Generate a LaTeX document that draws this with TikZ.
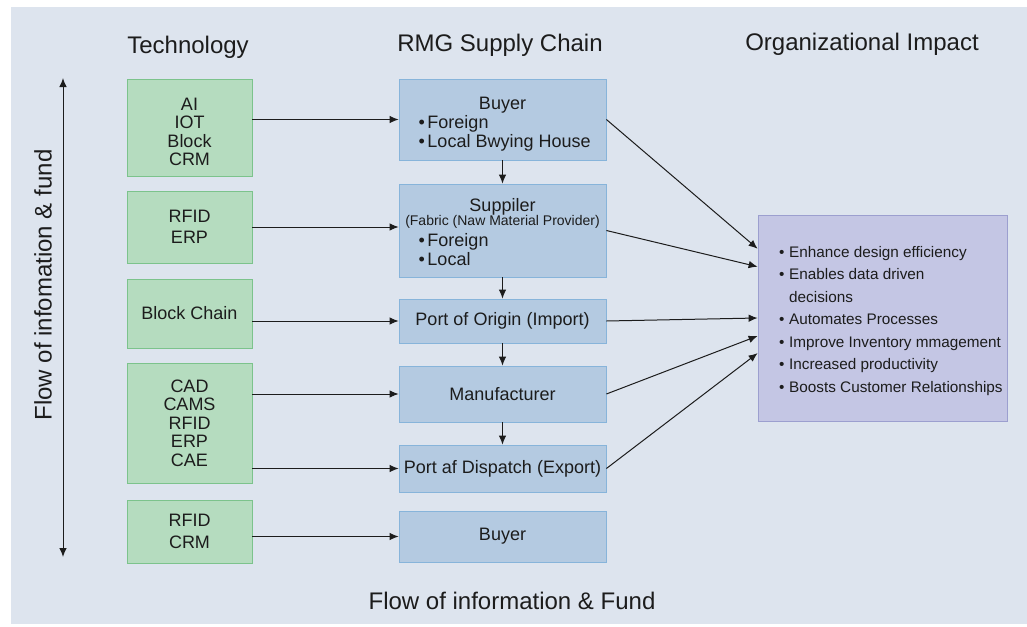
\documentclass[tikz,border=0pt]{standalone}
\usepackage{fontspec}
\setmainfont{Liberation Sans}
\usetikzlibrary{arrows.meta, positioning, calc}
\definecolor{paper}{HTML}{DDE4EE}
\definecolor{techfill}{HTML}{B5DCBF}
\definecolor{techline}{HTML}{7CC38C}
\definecolor{stagefill}{HTML}{B4CAE1}
\definecolor{stageline}{HTML}{87B4DA}
\definecolor{impactfill}{HTML}{C4C6E4}
\definecolor{impactline}{HTML}{9C9FCF}
\definecolor{ink}{HTML}{1C1C1C}
\newcommand{\bul}{\makebox[9pt][l]{\textbullet}}
\newcommand{\ibul}{\makebox[10pt][l]{\textbullet}}
\newcommand{\toppad}[1]{\rule{0pt}{#1}}

\begin{document}
\begin{tikzpicture}[x=1pt, y=-1pt,
	tech/.style={rectangle, draw=techline, fill=techfill, line width=0.8pt,
		minimum width=125pt, inner sep=0pt, align=center, text=ink,
		font=\fontsize{18}{18.5}\selectfont},
	stage/.style={rectangle, draw=stageline, fill=stagefill, line width=0.8pt,
		minimum width=207pt, inner sep=0pt, align=center, text=ink,
		font=\fontsize{18}{19}\selectfont},
	impact/.style={rectangle, draw=impactline, fill=impactfill, line width=0.8pt,
		minimum width=249pt, minimum height=206pt, inner sep=0pt},
	heading/.style={font=\fontsize{24}{24}\selectfont, text=ink, anchor=base},
	flow/.style={-{Latex[length=9pt,width=7.5pt]}, line width=1pt, draw=ink},
	]
	\useasboundingbox (0,0) rectangle (1027,626);
	\fill[paper] (11,7) rectangle (1027,624);
	
	% column titles
	\node[heading] (hTech) at (188,53) {Technology};
	\node[heading] (hChain) at (500,52) {RMG Supply Chain};
	\node[heading] (hImpact) at (862,51) {Organizational Impact};
	\node[heading] (hFlow) at (512,609) {Flow of information \& Fund};
	
	% technology column
	\node[tech, minimum height=97pt] (ai) at (189.5,127.5) {\toppad{21pt}AI\\IOT\\Block\\CRM};
	\node[tech, minimum height=72pt] (rfid) at (189.5,227) {RFID\\[3pt]ERP};
	\node[tech, minimum height=69pt] (chain) at (189.5,313.5) {Block Chain};
	\node[tech, minimum height=120pt] (cad) at (189.5,423) {CAD\\CAMS\\RFID\\ERP\\CAE};
	\node[tech, minimum height=63pt] (crm) at (189.5,531.5) {RFID\\[3pt]CRM};
	
	% supply chain column
	\node[stage, minimum height=81pt] (buyer) at (502.5,119.5) {\toppad{24pt}Buyer\\
		\makebox[168pt][l]{\begin{tabular}[t]{@{}l@{}}\bul Foreign\\ \bul Local Bwying House\end{tabular}}};
	\node[stage, minimum height=93pt] (supplier) at (502.5,230.5) {\toppad{22pt}Suppiler\\[-5pt]
		{\fontsize{14}{14}\selectfont (Fabric (Naw Material Provider)}\\[2pt]
		\makebox[168pt][l]{\begin{tabular}[t]{@{}l@{}}\bul Foreign\\ \bul Local\end{tabular}}};
	\node[stage, minimum height=44pt] (origin) at (502.5,321) {Port of Origin (Import)};
	\node[stage, minimum height=56pt] (maker) at (502.5,394) {Manufacturer};
	\node[stage, minimum height=47pt] (dispatch) at (502.5,468.5) {Port af Dispatch (Export)};
	\node[stage, minimum height=51pt] (endbuyer) at (502.5,536.5) {Buyer};
	
	% impact box
	\node[impact] (impact) at (882.5,318) {};
	\node[anchor=north west, inner sep=0pt, align=left, text=ink,
		font=\fontsize{15.3}{22.5}\selectfont] (gains) at (779,246)
		{\ibul Enhance design efficiency\\
		\ibul Enables data driven\\
		\hspace*{10pt}decisions\\
		\ibul Automates Processes\\
		\ibul Improve Inventory mmagement\\
		\ibul Increased productivity\\
		\ibul Boosts Customer Relationships};
	
	% side arrow
	\coordinate (ftop) at (63,78);
	\coordinate (fbot) at (63,557);
	\draw[{Latex[length=9pt,width=7.5pt]}-{Latex[length=9pt,width=7.5pt]}, line width=1pt, draw=ink] (ftop) -- (fbot);
	\node[heading, anchor=center, rotate=90] (vFlow) at (43,285) {Flow of infomation \& fund};
	
	% technology to supply chain
	\draw[flow] (ai.east |- buyer.west) -- (buyer.west);
	\draw[flow] (rfid.east) -- (rfid.east -| supplier.west);
	\draw[flow] (chain.east |- origin.west) -- (origin.west);
	\draw[flow] (cad.east |- maker.west) -- (maker.west);
	\draw[flow] (cad.east |- dispatch.west) -- (dispatch.west);
	\draw[flow] (crm.east |- endbuyer.west) -- (endbuyer.west);
	
	% down the chain
	\draw[flow] (buyer) -- (supplier);
	\draw[flow] (supplier) -- (origin);
	\draw[flow] (origin) -- (maker);
	\draw[flow] (maker) -- (dispatch);
	
	% supply chain to impact
	\foreach \src/\f in {buyer/0.165, supplier/0.252, origin/0.5, maker/0.587, dispatch/0.67}
		\draw[flow] (\src.east) -- ($(impact.north west)!\f!(impact.south west)$);
\end{tikzpicture}
\end{document}
